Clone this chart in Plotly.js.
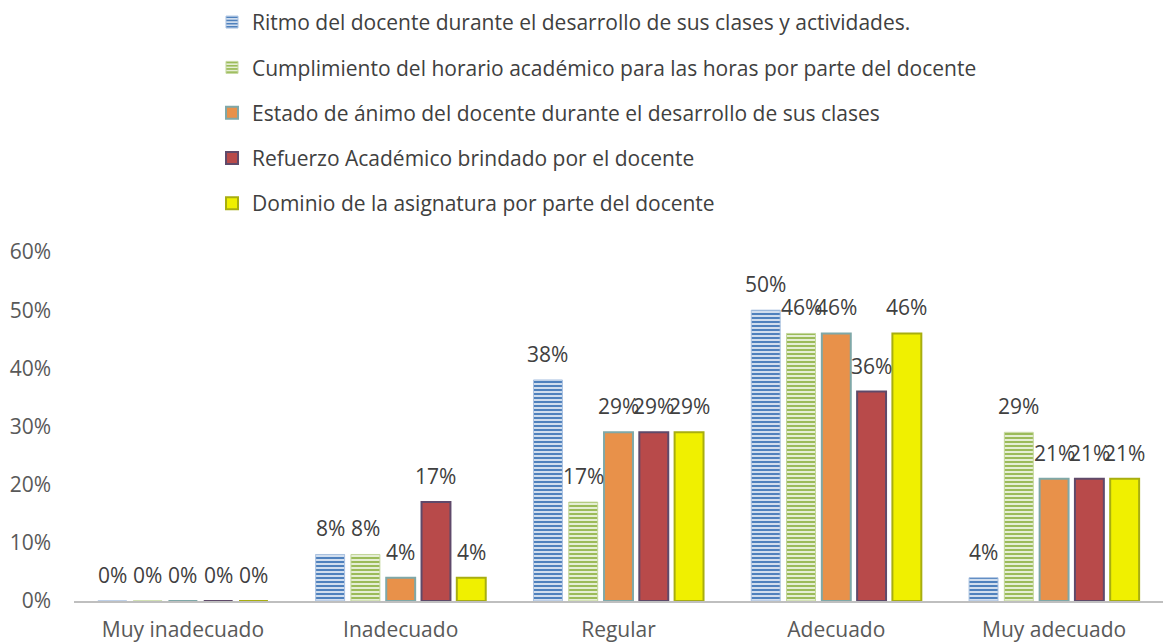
<!DOCTYPE html>
<html><head><meta charset="utf-8">
<script src="https://cdn.plot.ly/plotly-3.0.1.min.js"></script>
<style>html,body{margin:0;padding:0;background:#fff}#chart{width:1163px;height:642px}</style>
</head><body><div id="chart"></div>
<script>
const categories = ["Muy inadecuado", "Inadecuado", "Regular", "Adecuado", "Muy adecuado"];
const seriesNames = [
  "Ritmo del docente durante el desarrollo de sus clases y actividades.",
  "Cumplimiento del horario académico para las horas por parte del docente",
  "Estado de ánimo del docente durante el desarrollo de sus clases",
  "Refuerzo Académico brindado por el docente",
  "Dominio de la asignatura por parte del docente"
];
const ritmo = [0, 8, 38, 50, 4];
const cumplimiento = [0, 8, 17, 46, 29];
const estado = [0, 4, 29, 46, 21];
const refuerzo = [0, 17, 29, 36, 21];
const dominio = [0, 4, 29, 46, 21];
const yTicks = [0, 10, 20, 30, 40, 50, 60];

const font = "Open Sans, Noto Sans, sans-serif";
const styles = [
  {color: "#dfe8f4", line: {color: "#a9c1e0", width: 1}, pattern: {shape: "-", fgcolor: "#4f81bd", bgcolor: "#dfe8f4", size: 4, solidity: 0.55}},
  {color: "#e6efd6", line: {color: "#c3d69b", width: 1}, pattern: {shape: "-", fgcolor: "#9bbb59", bgcolor: "#eef4e2", size: 4, solidity: 0.55}},
  {color: "#e8914a", line: {color: "#7fa8a8", width: 2}},
  {color: "#b84a4a", line: {color: "#5f4a6a", width: 2}},
  {color: "#f0f000", line: {color: "#a8ae10", width: 2}}
];
const values = [ritmo, cumplimiento, estado, refuerzo, dominio];
const BARGAP = 0.19;

const traces = values.map((v, i) => ({
  type: "bar",
  name: seriesNames[i],
  x: categories,
  y: v,
  marker: styles[i],
  legendgroup: "g" + i,
  hoverinfo: "x+y+name"
}));

// value labels placed above each grouped bar via the axis scales
const nSeries = values.length;
const slot = (1 - BARGAP) / nSeries;
const annotations = [];
values.forEach((v, i) => {
  v.forEach((val, c) => {
    annotations.push({
      xref: "x", yref: "y",
      x: c - (1 - BARGAP) / 2 + slot * (i + 0.5),
      y: val,
      text: val + "%",
      showarrow: false,
      yanchor: "bottom",
      yshift: 10,
      font: {family: font, size: 21, color: "#404040"}
    });
  });
});

const layout = {
  width: 1163, height: 642,
  margin: {l: 74, r: 0, t: 252, b: 41, autoexpand: false},
  paper_bgcolor: "#fff", plot_bgcolor: "#fff",
  font: {family: font, size: 21, color: "#595959"},
  barmode: "group",
  bargap: BARGAP,
  bargroupgap: 0.18,
  showlegend: true,
  annotations: annotations,
  legend: {
    xref: "container", yref: "container",
    x: 0.1823, y: 0.997, xanchor: "left", yanchor: "top",
    orientation: "v", tracegroupgap: 15,
    font: {family: font, size: 21, color: "#404040"},
    itemwidth: 30
  },
  xaxis: {
    type: "category",
    range: [-0.5, 4.5],
    showline: true, linecolor: "#bfbfbf", linewidth: 2,
    ticks: "", showgrid: false,
    ticklabelstandoff: 9,
    tickfont: {family: font, size: 21, color: "#595959"}
  },
  yaxis: {
    range: [0, 60],
    tickvals: yTicks,
    ticktext: yTicks.map(t => t + "%"),
    showgrid: false, zeroline: false, showline: false,
    ticks: "",
    ticklabelstandoff: 22,
    tickfont: {family: font, size: 21, color: "#595959"}
  }
};
Plotly.newPlot("chart", traces, layout, {displayModeBar: false, staticPlot: true});
</script></body></html>
